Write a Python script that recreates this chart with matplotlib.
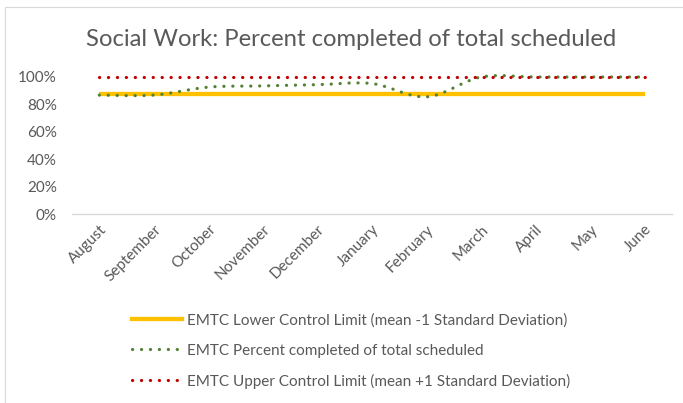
import matplotlib
matplotlib.use("Agg")
import matplotlib.pyplot as plt
from matplotlib.lines import Line2D
from matplotlib.patches import PathPatch, Rectangle
from matplotlib.path import Path
from matplotlib.ticker import FuncFormatter

months = ["August", "September", "October", "November", "December", "January",
          "February", "March", "April", "May", "June"]
lower_limit = [87.6] * 11
pct_completed = [86.8, 86.8, 92.6, 93.5, 94.4, 95.2, 85.5, 100.0, 100.0, 100.0, 100.0]
upper_limit = [100.0] * 11

YELLOW = "#FFC000"
GREEN = "#548235"
RED = "#C00000"
TEXT = "#595959"
GRID = "#D9D9D9"

plt.rcParams["font.family"] = ["Lato", "DejaVu Sans"]


def smooth_path(xs, ys):
    # Excel-style smoothed line: Catmull-Rom segments as cubic Beziers
    n = len(xs)
    verts = [(xs[0], ys[0])]
    codes = [Path.MOVETO]
    for i in range(n - 1):
        a = max(i - 1, 0)
        d = min(i + 2, n - 1)
        c1 = (xs[i] + (xs[i + 1] - xs[a]) / 6, ys[i] + (ys[i + 1] - ys[a]) / 6)
        c2 = (xs[i + 1] - (xs[d] - xs[i]) / 6, ys[i + 1] - (ys[d] - ys[i]) / 6)
        verts += [c1, c2, (xs[i + 1], ys[i + 1])]
        codes += [Path.CURVE4] * 3
    return Path(verts, codes)


fig = plt.figure(figsize=(6.83, 4.03), dpi=100)
ax = fig.add_axes([72 / 683, 1 - 214 / 403, 600 / 683, 137 / 403])

x = list(range(len(months)))
dots = (0, (0.05, 2.75))

ax.plot(x, lower_limit, color=YELLOW, lw=3.1, solid_capstyle="butt", clip_on=False, zorder=2)
green_patch = PathPatch(smooth_path(x, pct_completed), fill=False, edgecolor=GREEN,
                        lw=2.3, linestyle=dots, capstyle="round", clip_on=False, zorder=3)
ax.add_patch(green_patch)
ax.plot(x, upper_limit, color=RED, lw=2.3, linestyle=dots, dash_capstyle="round",
        clip_on=False, zorder=4)

ax.set_xlim(-0.5, len(months) - 0.5)
ax.set_ylim(0, 100)
ax.set_yticks(range(0, 101, 20))
ax.yaxis.set_major_formatter(FuncFormatter(lambda v, _: f"{v:.0f}%"))
ax.set_xticks(x)
ax.set_xticklabels(months, rotation=45, ha="right", va="top", rotation_mode="anchor")
ax.tick_params(axis="both", length=0, labelsize=11, labelcolor=TEXT)
ax.tick_params(axis="y", pad=11)
ax.tick_params(axis="x", pad=6)

for side in ["left", "right", "top"]:
    ax.spines[side].set_visible(False)
ax.spines["bottom"].set_color(GRID)
ax.spines["bottom"].set_linewidth(1)

fig.text(351 / 683, 1 - 40 / 403, "Social Work: Percent completed of total scheduled",
         ha="center", va="center", fontsize=17.2, color=TEXT)

handles = [
    Line2D([], [], color=YELLOW, lw=3.1),
    Line2D([], [], color=GREEN, lw=2.3, linestyle=dots, dash_capstyle="round"),
    Line2D([], [], color=RED, lw=2.3, linestyle=dots, dash_capstyle="round"),
]
labels = [
    "EMTC Lower Control Limit (mean -1 Standard Deviation)",
    "EMTC Percent completed of total scheduled",
    "EMTC Upper Control Limit (mean +1 Standard Deviation)",
]
fig.legend(handles, labels, loc="center", bbox_to_anchor=(351 / 683, 1 - 351 / 403),
           frameon=False, fontsize=11, labelcolor=TEXT, handlelength=3.3,
           handletextpad=0.3, labelspacing=1.05, borderpad=0)

# chart border
fig.add_artist(Rectangle((5 / 683, -0.1), 1.1, 1.1 - 7 / 403, transform=fig.transFigure,
                         fill=False, edgecolor=GRID, lw=0.8))

fig.savefig("out.png", dpi=100)
